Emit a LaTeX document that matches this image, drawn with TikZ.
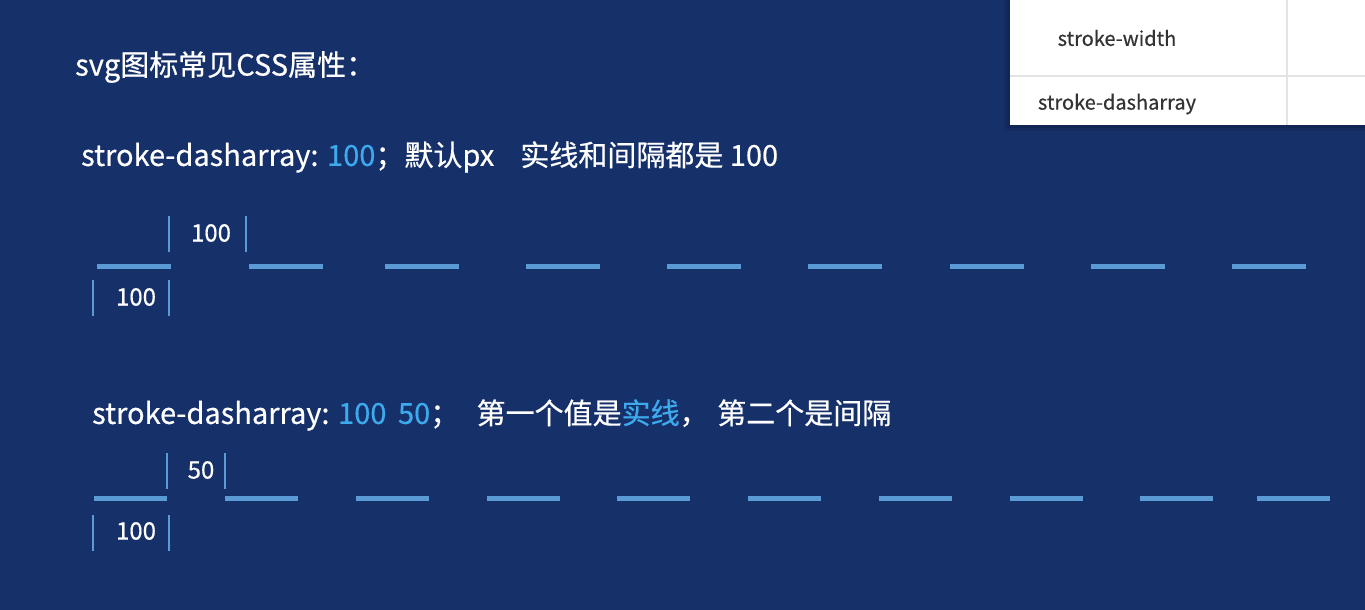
\documentclass[tikz,border=0pt]{standalone}
\usepackage{fontspec}
\setmainfont{Noto Sans CJK SC}[FakeBold=0.5]
\usetikzlibrary{positioning}
\definecolor{bgblue}{RGB}{22,48,106}
\definecolor{dashblue}{RGB}{91,155,213}
\definecolor{hlblue}{RGB}{62,170,238}
\definecolor{tabgray}{RGB}{51,51,51}
\definecolor{tabline}{RGB}{228,228,228}

\begin{document}
\begin{tikzpicture}[x=1pt, y=-1pt,
  txt/.style={anchor=west, inner sep=0pt, text=white, font=\fontsize{29}{33}\selectfont},
  num/.style={inner sep=0pt, text=white, font=\fontsize{24}{28}\selectfont},
  cell/.style={inner sep=0pt, text=tabgray, font=\fontsize{20}{24}\selectfont},
  seg/.style={draw=dashblue, line width=5pt},
  tick/.style={draw=dashblue, line width=2.6pt}]
% background
\fill[bgblue] (0,0) rectangle (1365,610);
\useasboundingbox (0,0) rectangle (1365,610);
% table in the corner
\fill[black, opacity=0.10] (1004,0) rectangle (1365,131);
\fill[black, opacity=0.10] (1007,0) rectangle (1365,128);
\fill[white] (1010,0) rectangle (1365,125);
\draw[tabline, line width=2pt] (1010,76) -- (1365,76);
\draw[tabline, line width=2pt] (1287,0) -- (1287,125);
\node[cell] (cw) at (1117,38) {stroke-width};
\node[cell] (cd) at (1117,104) {stroke-dasharray};
% heading
\node[txt] (title) at (75,67) {svg图标常见CSS属性：};
% first example
\node[txt] (line1) at (81,157) {stroke-dasharray: {\color{hlblue}100}；默认px\hspace{0.9em}实线和间隔都是 100};
\foreach \x in {97,249,385,526,667,808,950,1091,1232}
  \draw[seg] (\x,266) -- ++(74,0);
\draw[tick] (169,216) -- (169,252);
\draw[tick] (246,216) -- (246,252);
\node[num] (gap1) at (211,233) {100};
\draw[tick] (93,280) -- (93,316);
\draw[tick] (169,280) -- (169,316);
\node[num] (len1) at (136,297) {100};
% second example
\node[txt] (line2) at (92,415) {stroke-dasharray: {\color{hlblue}100\hspace{0.4em}50}；\hspace{0.6em}第一个值是{\color{hlblue}实线}，\hspace{0.3em}第二个是间隔};
\foreach \x in {94,225,356,487,617,748,879,1010,1140,1257}
  \draw[seg] (\x,498) -- ++(73,0);
\draw[tick] (167,453) -- (167,489);
\draw[tick] (225,453) -- (225,489);
\node[num] (gap2) at (201,470) {50};
\draw[tick] (93,515) -- (93,551);
\draw[tick] (169,515) -- (169,551);
\node[num] (len2) at (136,531) {100};
\end{tikzpicture}
\end{document}
